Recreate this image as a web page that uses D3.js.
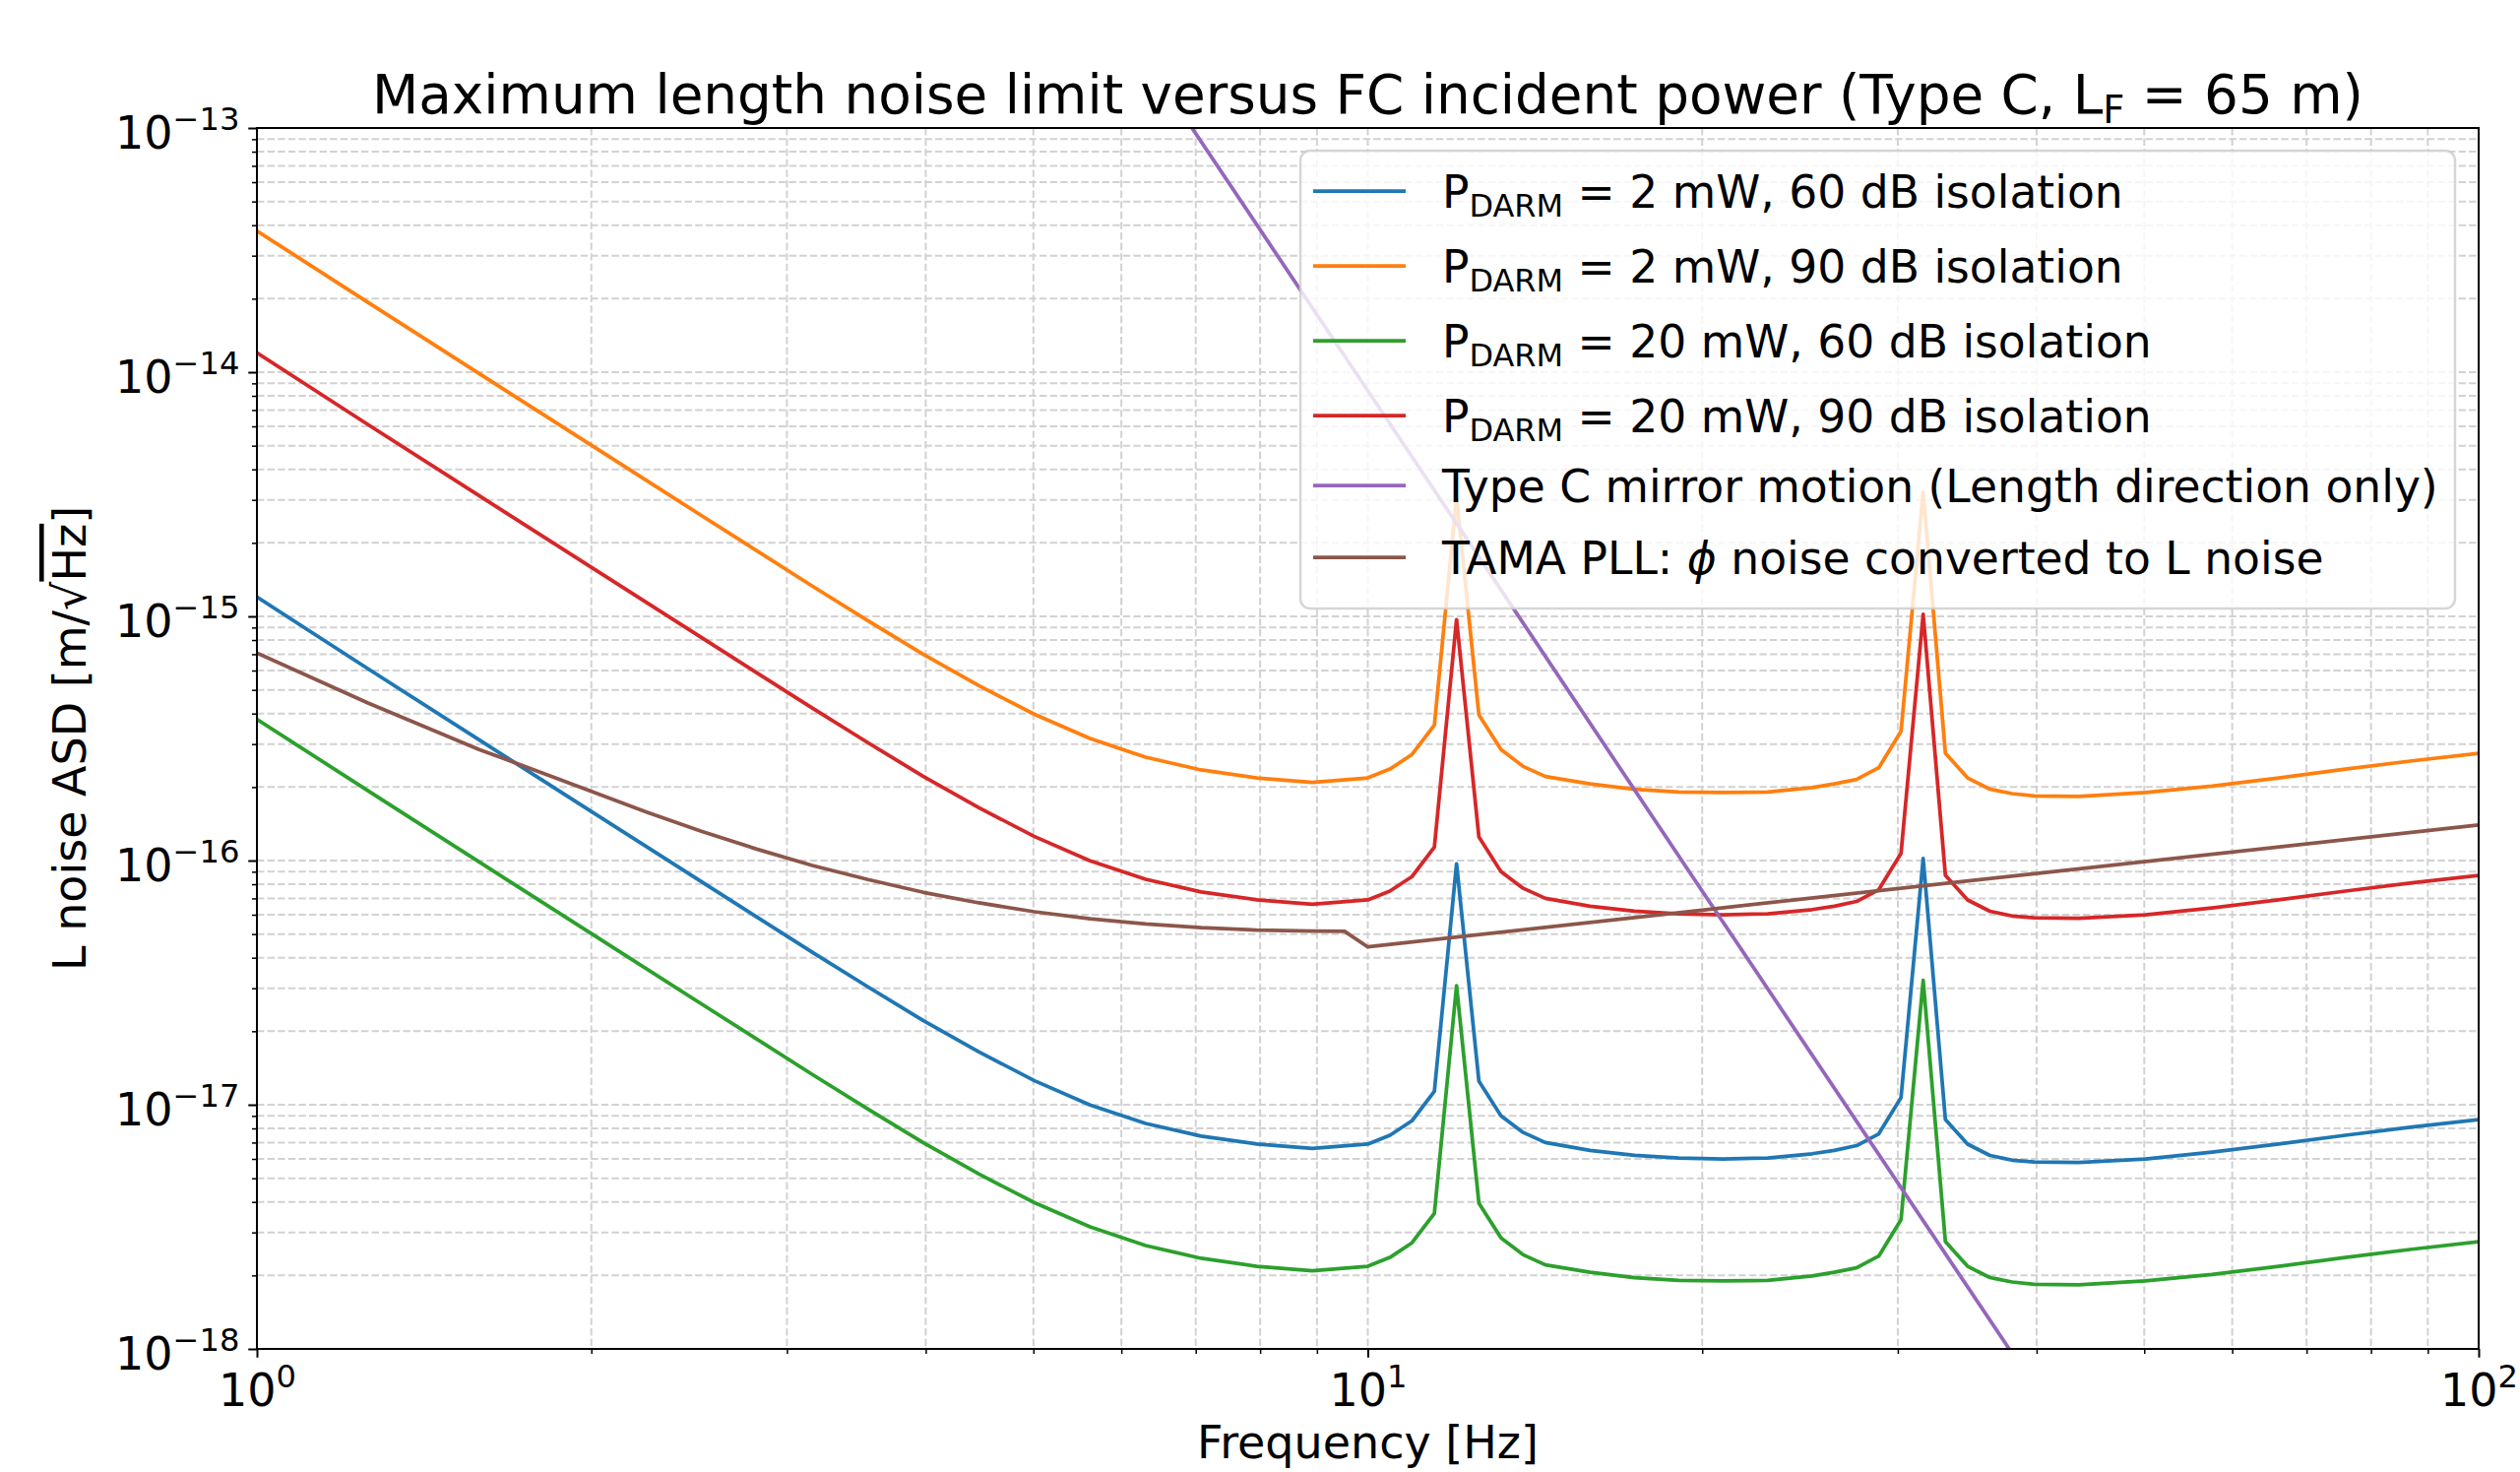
<!DOCTYPE html>
<html>
<head>
<meta charset="utf-8">
<script src="https://cdn.jsdelivr.net/npm/d3@7"></script>
<style>
  body { margin: 0; background: #fff; }
  svg { font-family: "DejaVu Sans", sans-serif; }
</style>
</head>
<body>
<script>
// frecuencias (Hz) donde se leyeron las curvas DARM
var freq = [1, 1.259, 1.585, 1.995, 2.512, 3.162, 3.548, 3.981, 4.467, 5.012, 5.623, 6.310, 7.079,
  7.943, 8.913, 10.0, 10.47, 10.96, 11.48, 12.02, 12.59, 13.18, 13.80, 14.45, 15.85, 17.38, 19.05,
  20.89, 22.91, 25.12, 26.30, 27.54, 28.84, 30.20, 31.62, 33.11, 34.67, 36.31, 38.02, 39.81, 43.65,
  50.12, 57.54, 66.07, 75.86, 87.10, 100]

var darm2mW60 = [1.20e-15, 6.1e-16, 3.12e-16, 1.60e-16, 8.2e-17, 4.21e-17, 3.04e-17, 2.21e-17, 1.645e-17,
  1.254e-17, 9.98e-18, 8.38e-18, 7.44e-18, 6.91e-18, 6.62e-18, 6.9e-18, 7.5e-18, 8.6e-18, 1.135e-17, 9.7e-17,
  1.25e-17, 9.0e-18, 7.7e-18, 7.0e-18, 6.5e-18, 6.2e-18, 6.05e-18, 6.0e-18, 6.05e-18, 6.3e-18, 6.5e-18, 6.8e-18,
  7.6e-18, 1.07e-17, 1.02e-16, 8.7e-18, 6.9e-18, 6.2e-18, 5.93e-18, 5.83e-18, 5.8e-18, 6.0e-18, 6.4e-18,
  6.9e-18, 7.5e-18, 8.1e-18, 8.7e-18]

var darm2mW90 = [3.79e-14, 1.93e-14, 9.87e-15, 5.06e-15, 2.59e-15, 1.33e-15, 9.61e-16, 6.99e-16, 5.20e-16,
  3.97e-16, 3.16e-16, 2.65e-16, 2.35e-16, 2.18e-16, 2.09e-16, 2.18e-16, 2.37e-16, 2.72e-16, 3.59e-16, 3.07e-15,
  3.95e-16, 2.85e-16, 2.43e-16, 2.21e-16, 2.06e-16, 1.96e-16, 1.91e-16, 1.90e-16, 1.91e-16, 1.99e-16, 2.06e-16,
  2.15e-16, 2.40e-16, 3.38e-16, 3.23e-15, 2.75e-16, 2.18e-16, 1.96e-16, 1.88e-16, 1.84e-16, 1.83e-16, 1.90e-16,
  2.02e-16, 2.18e-16, 2.37e-16, 2.56e-16, 2.75e-16]

var darm20mW60 = [3.79e-16, 1.93e-16, 9.87e-17, 5.06e-17, 2.59e-17, 1.33e-17, 9.61e-18, 6.99e-18, 5.20e-18,
  3.97e-18, 3.16e-18, 2.65e-18, 2.35e-18, 2.18e-18, 2.09e-18, 2.18e-18, 2.37e-18, 2.72e-18, 3.59e-18, 3.07e-17,
  3.95e-18, 2.85e-18, 2.43e-18, 2.21e-18, 2.06e-18, 1.96e-18, 1.91e-18, 1.90e-18, 1.91e-18, 1.99e-18, 2.06e-18,
  2.15e-18, 2.40e-18, 3.38e-18, 3.23e-17, 2.75e-18, 2.18e-18, 1.96e-18, 1.88e-18, 1.84e-18, 1.83e-18, 1.90e-18,
  2.02e-18, 2.18e-18, 2.37e-18, 2.56e-18, 2.75e-18]

var darm20mW90 = [1.20e-14, 6.1e-15, 3.12e-15, 1.60e-15, 8.2e-16, 4.21e-16, 3.04e-16, 2.21e-16, 1.645e-16,
  1.254e-16, 9.98e-17, 8.38e-17, 7.44e-17, 6.91e-17, 6.62e-17, 6.9e-17, 7.5e-17, 8.6e-17, 1.135e-16, 9.7e-16,
  1.25e-16, 9.0e-17, 7.7e-17, 7.0e-17, 6.5e-17, 6.2e-17, 6.05e-17, 6.0e-17, 6.05e-17, 6.3e-17, 6.5e-17, 6.8e-17,
  7.6e-17, 1.07e-16, 1.02e-15, 8.7e-17, 6.9e-17, 6.2e-17, 5.93e-17, 5.83e-17, 5.8e-17, 6.0e-17, 6.4e-17,
  6.9e-17, 7.5e-17, 8.1e-17, 8.7e-17]

// movimiento del espejo Type C (recta en log-log)
var mirrorFreq = [5, 10, 20, 40]
var mirrorNoise = [9.35e-13, 8.4e-15, 7.5e-17, 6.8e-19]

// TAMA PLL
var pllFreq = [1, 1.259, 1.585, 1.995, 2.239, 2.512, 2.818, 3.162, 3.548, 3.981, 4.467, 5.012, 5.623,
  6.310, 7.079, 7.943, 8.913, 9.53, 10, 20, 40, 100]
var pllNoise = [7.08e-16, 4.42e-16, 2.85e-16, 1.93e-16, 1.585e-16, 1.318e-16, 1.114e-16, 9.55e-17, 8.36e-17,
  7.41e-17, 6.71e-17, 6.17e-17, 5.78e-17, 5.50e-17, 5.31e-17, 5.19e-17, 5.14e-17, 5.13e-17, 4.43e-17,
  6.27e-17, 8.85e-17, 1.40e-16]

var seriesColors = ["#1f77b4", "#ff7f0e", "#2ca02c", "#d62728", "#9467bd", "#8c564b"]
// etiquetas: [texto, subindice, resto]
var seriesLabels = [
  ["P", "DARM", " = 2 mW, 60 dB isolation"],
  ["P", "DARM", " = 2 mW, 90 dB isolation"],
  ["P", "DARM", " = 20 mW, 60 dB isolation"],
  ["P", "DARM", " = 20 mW, 90 dB isolation"],
  ["Type C mirror motion (Length direction only)", "", ""],
  ["TAMA PLL: ", "", " noise converted to L noise"]
]
var xTicks = [1, 10, 100]
var yTicks = [1e-18, 1e-17, 1e-16, 1e-15, 1e-14, 1e-13]

var W = 2560, H = 1495
var L = 261, R = 2518, T = 130, B = 1370
var fs = 46, fsLeg = 45.6

var svg = d3.select("body").append("svg")
  .attr("width", W).attr("height", H)

var x = d3.scaleLog().domain([1, 100]).range([L, R])
var y = d3.scaleLog().domain([1e-18, 1e-13]).range([B, T])

// ticks menores
var xMinor = [], yMinor = []
xTicks.slice(0, 2).forEach(d => { for (var k = 2; k < 10; k++) xMinor.push(d * k) })
yTicks.slice(0, 5).forEach(d => { for (var k = 2; k < 10; k++) yMinor.push(d * k) })

// GRID (todo discontinuo)
var grid = svg.append("g").attr("stroke", "#d2d2d2").attr("stroke-width", 2).attr("stroke-dasharray", "7.4,3.2")
grid.selectAll(".gx").data(xTicks.concat(xMinor)).enter().append("line")
  .attr("x1", d => x(d)).attr("x2", d => x(d)).attr("y1", T).attr("y2", B)
grid.selectAll(".gy").data(yTicks.concat(yMinor)).enter().append("line")
  .attr("y1", d => y(d)).attr("y2", d => y(d)).attr("x1", L).attr("x2", R)

// LINEAS
svg.append("clipPath").attr("id", "plot").append("rect")
  .attr("x", L).attr("y", T).attr("width", R - L).attr("height", B - T)

var series = [
  { f: freq, v: darm2mW60 }, { f: freq, v: darm2mW90 }, { f: freq, v: darm20mW60 },
  { f: freq, v: darm20mW90 }, { f: mirrorFreq, v: mirrorNoise }, { f: pllFreq, v: pllNoise }
]
var line = d3.line().x(d => x(d[0])).y(d => y(d[1]))

svg.append("g").attr("clip-path", "url(#plot)")
  .selectAll("path").data(series).enter().append("path")
  .attr("d", d => line(d.f.map((f, i) => [f, d.v[i]])))
  .attr("fill", "none")
  .attr("stroke", (d, i) => seriesColors[i])
  .attr("stroke-width", 3.75)
  .attr("stroke-linejoin", "round")

// EJES
function supLabels(sel, anchor, dy) {
  sel.selectAll("text").each(function (d) {
    var t = d3.select(this).text(null).attr("font-size", fs).attr("fill", "#000")
      .attr("text-anchor", anchor).attr("dy", dy).attr("font-family", "DejaVu Sans")
    var e = Math.round(Math.log10(d))
    t.append("tspan").text("10")
    t.append("tspan").attr("font-size", fs * 0.7).attr("dy", -fs * 0.42)
      .text(e < 0 ? "\u2212" + (-e) : e)
  })
}

var xAxis = svg.append("g").attr("transform", "translate(0," + B + ")")
  .call(d3.axisBottom(x).tickValues(xTicks).tickSize(8.75).tickPadding(8.75).tickFormat(""))
xAxis.call(supLabels, "middle", "0.88em")
svg.append("g").attr("transform", "translate(0," + B + ")")
  .call(d3.axisBottom(x).tickValues(xMinor).tickSize(5).tickFormat(""))
  .selectAll("line").attr("stroke-width", 1.5)

var yAxis = svg.append("g").attr("transform", "translate(" + L + ",0)")
  .call(d3.axisLeft(y).tickValues(yTicks).tickSize(8.75).tickPadding(8.75).tickFormat(""))
yAxis.call(supLabels, "end", "0.45em")
svg.append("g").attr("transform", "translate(" + L + ",0)")
  .call(d3.axisLeft(y).tickValues(yMinor).tickSize(5).tickFormat(""))
  .selectAll("line").attr("stroke-width", 1.5)

svg.selectAll(".domain").remove()
xAxis.selectAll("line").attr("stroke-width", 2)
yAxis.selectAll("line").attr("stroke-width", 2)

svg.append("rect").attr("x", L).attr("y", T).attr("width", R - L).attr("height", B - T)
  .attr("fill", "none").attr("stroke", "#000").attr("stroke-width", 2)

// TITULO Y ETIQUETAS
var fsTitle = 54.8
var title = svg.append("text").attr("x", (L + R) / 2).attr("y", 115)
  .attr("text-anchor", "middle").attr("font-size", fsTitle)
title.append("tspan").text("Maximum length noise limit versus FC incident power (Type C, L")
title.append("tspan").attr("font-size", fsTitle * 0.7).attr("dy", 10).text("F")
title.append("tspan").attr("dy", -10).text(" = 65 m)")

svg.append("text").attr("x", (L + R) / 2).attr("y", 1481)
  .attr("text-anchor", "middle").attr("font-size", fs).text("Frequency [Hz]")

var ylab = svg.append("text").attr("transform", "translate(87," + (T + B) / 2 + ") rotate(-90)")
  .attr("text-anchor", "middle").attr("font-size", fs)
ylab.append("tspan").text("L noise ASD [m/\u221A")
ylab.append("tspan").style("text-decoration", "overline").text("Hz")
ylab.append("tspan").text("]")

// LEYENDA
var lg = svg.append("g")
lg.append("rect").attr("x", 1321).attr("y", 153).attr("width", 1173).attr("height", 465)
  .attr("rx", 10).attr("fill", "#fff").attr("fill-opacity", 0.8)
  .attr("stroke", "#ccc").attr("stroke-opacity", 0.8).attr("stroke-width", 2.5)

var rowY = [194, 270, 346, 422, 493, 566]
seriesLabels.forEach(function (lab, i) {
  lg.append("line").attr("x1", 1334).attr("x2", 1428).attr("y1", rowY[i]).attr("y2", rowY[i])
    .attr("stroke", seriesColors[i]).attr("stroke-width", 3.75)
  var t = lg.append("text").attr("x", 1465).attr("y", rowY[i] + 17).attr("font-size", fsLeg)
  t.append("tspan").text(lab[0])
  if (lab[1]) {
    t.append("tspan").attr("font-size", fsLeg * 0.7).attr("dy", 9).text(lab[1])
    t.append("tspan").attr("dy", -9).text(lab[2])
  } else if (i == 5) {
    t.append("tspan").attr("font-style", "italic").text("\u03D5")
    t.append("tspan").text(lab[2])
  }
})
</script>
</body>
</html>
